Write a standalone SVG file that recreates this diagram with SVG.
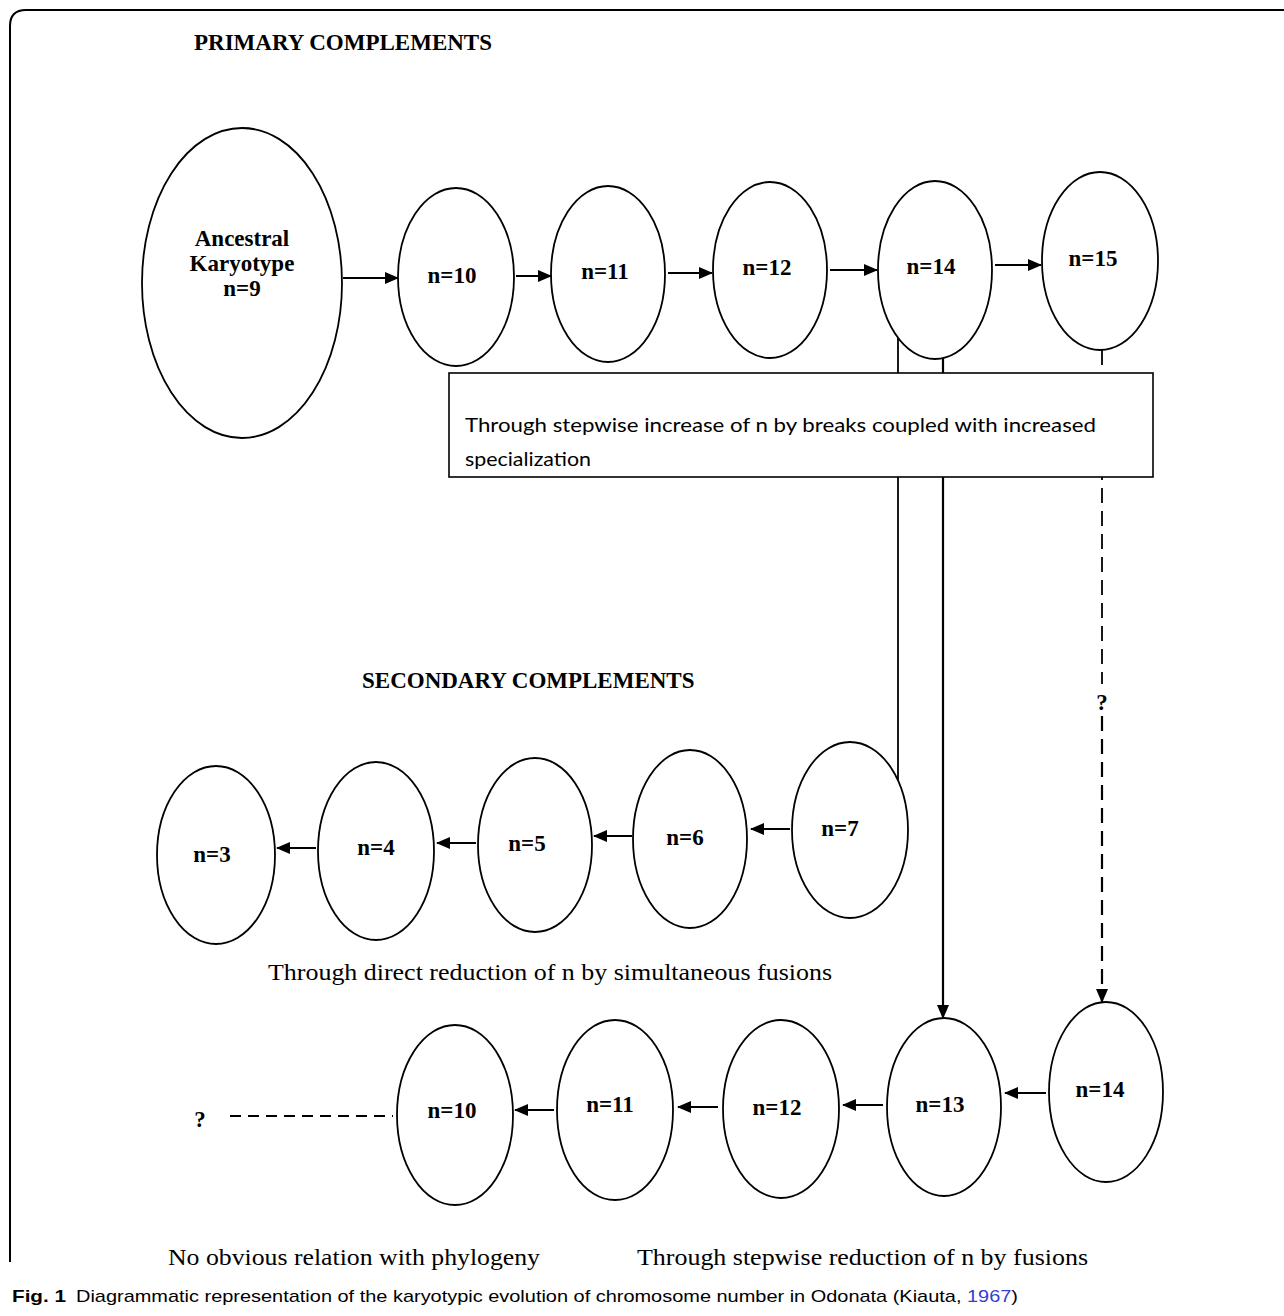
<svg xmlns="http://www.w3.org/2000/svg" width="1284" height="1316" viewBox="0 0 1284 1316">
<style>
.node ellipse{fill:#fff;stroke:#000;stroke-width:1.8}
.lbl{font-family:"Liberation Serif","Times New Roman",serif;font-weight:bold;font-size:23px;text-anchor:middle;fill:#000}
.head{font-family:"Liberation Serif","Times New Roman",serif;font-weight:bold;font-size:23px;fill:#000}
.note{font-family:"Liberation Serif","Times New Roman",serif;font-size:24px;fill:#000}
.box{font-family:Lato,"Liberation Sans",Arial,sans-serif;font-size:20px;fill:#000}
.arr{stroke:#000;stroke-width:2.2;fill:none;marker-end:url(#ah)}
.ln{stroke:#000;stroke-width:1.8;fill:none}
.dash{stroke:#000;stroke-width:1.8;fill:none;stroke-dasharray:15 8}
</style>
<defs>
<marker id="ah" markerUnits="userSpaceOnUse" markerWidth="14" markerHeight="12" refX="13" refY="6" orient="auto">
<path d="M0,0 L14,6 L0,12 Z" fill="#000"/>
</marker>
</defs>
<rect width="1284" height="1316" fill="#fff"/>
<path d="M10,1262 V26 Q10,10 26,10 H1284" fill="none" stroke="#000" stroke-width="2"/>
<text class="head" x="194" y="50">PRIMARY COMPLEMENTS</text>
<text class="head" x="362" y="688">SECONDARY COMPLEMENTS</text>

<g id="connectors">
<line class="arr" x1="343" y1="278" x2="398" y2="278"/>
<line class="arr" x1="516" y1="276" x2="551" y2="276"/>
<line class="arr" x1="668" y1="273" x2="712" y2="273"/>
<line class="arr" x1="830" y1="270" x2="877" y2="270"/>
<line class="arr" x1="995" y1="265" x2="1041" y2="265"/>
<line class="ln" x1="898" y1="337" x2="898" y2="780"/>
<line class="arr" x1="943" y1="358" x2="943" y2="1018"/>
<line class="dash" x1="1102" y1="350" x2="1102" y2="684"/>
<line class="arr" x1="1102" y1="716" x2="1102" y2="1002" stroke-dasharray="15 8"/>
<line class="arr" x1="790" y1="829" x2="751" y2="829"/>
<line class="arr" x1="632" y1="836" x2="594" y2="836"/>
<line class="arr" x1="476" y1="843" x2="437" y2="843"/>
<line class="arr" x1="316" y1="848" x2="277" y2="848"/>
<line class="arr" x1="1046" y1="1093" x2="1005" y2="1093"/>
<line class="arr" x1="883" y1="1105" x2="843" y2="1105"/>
<line class="arr" x1="718" y1="1107" x2="678" y2="1107"/>
<line class="arr" x1="554" y1="1110" x2="515" y2="1110"/>
<line class="ln" x1="230" y1="1116" x2="393" y2="1116" stroke-dasharray="11 7"/>
</g>

<text class="head" x="1102" y="710" text-anchor="middle" font-size="22">?</text>
<text class="head" x="200" y="1127" text-anchor="middle" font-size="22">?</text>

<g id="box">
<rect x="449" y="373" width="704" height="104" fill="#fff" stroke="#000" stroke-width="1.6"/>
<text class="box" x="465" y="432" textLength="631" lengthAdjust="spacingAndGlyphs">Through stepwise increase of n by breaks coupled with increased</text>
<text class="box" x="465" y="466" textLength="126" lengthAdjust="spacingAndGlyphs">specialization</text>
</g>

<g id="n_anc" class="node"><ellipse cx="242" cy="283" rx="100" ry="155"/>
<text class="lbl" font-size="21" x="242" y="246">Ancestral</text>
<text class="lbl" font-size="21" x="242" y="271">Karyotype</text>
<text class="lbl" font-size="21" x="242" y="296">n=9</text></g>
<g id="p10" class="node"><ellipse cx="456" cy="277" rx="58" ry="89"/><text class="lbl" x="452" y="283">n=10</text></g>
<g id="p11" class="node"><ellipse cx="608" cy="274" rx="57" ry="88"/><text class="lbl" x="605" y="279">n=11</text></g>
<g id="p12" class="node"><ellipse cx="770" cy="270" rx="57" ry="88"/><text class="lbl" x="767" y="275">n=12</text></g>
<g id="p14" class="node"><ellipse cx="935" cy="270" rx="57" ry="89"/><text class="lbl" x="931" y="274">n=14</text></g>
<g id="p15" class="node"><ellipse cx="1100" cy="261" rx="58" ry="89"/><text class="lbl" x="1093" y="266">n=15</text></g>

<g id="s7" class="node"><ellipse cx="850" cy="830" rx="58" ry="88"/><text class="lbl" x="840" y="836">n=7</text></g>
<g id="s6" class="node"><ellipse cx="690" cy="839" rx="57" ry="89"/><text class="lbl" x="685" y="845">n=6</text></g>
<g id="s5" class="node"><ellipse cx="535" cy="845" rx="57" ry="87"/><text class="lbl" x="527" y="851">n=5</text></g>
<g id="s4" class="node"><ellipse cx="376" cy="851" rx="58" ry="89"/><text class="lbl" x="376" y="855">n=4</text></g>
<g id="s3" class="node"><ellipse cx="216" cy="855" rx="59" ry="89"/><text class="lbl" x="212" y="862">n=3</text></g>

<g id="b14" class="node"><ellipse cx="1106" cy="1092" rx="57" ry="90"/><text class="lbl" x="1100" y="1097">n=14</text></g>
<g id="b13" class="node"><ellipse cx="944" cy="1107" rx="57" ry="89"/><text class="lbl" x="940" y="1112">n=13</text></g>
<g id="b12" class="node"><ellipse cx="781" cy="1109" rx="58" ry="89"/><text class="lbl" x="777" y="1115">n=12</text></g>
<g id="b11" class="node"><ellipse cx="615" cy="1110" rx="58" ry="90"/><text class="lbl" x="610" y="1112">n=11</text></g>
<g id="b10" class="node"><ellipse cx="455" cy="1115" rx="58" ry="90"/><text class="lbl" x="452" y="1118">n=10</text></g>

<text class="note" x="268" y="980" textLength="564" lengthAdjust="spacingAndGlyphs">Through direct reduction of n by simultaneous fusions</text>
<text class="note" x="168" y="1265" textLength="372" lengthAdjust="spacingAndGlyphs">No obvious relation with phylogeny</text>
<text class="note" x="637" y="1265" textLength="451" lengthAdjust="spacingAndGlyphs">Through stepwise reduction of n by fusions</text>

<text x="12" y="1302" font-family="'Liberation Sans',Arial,sans-serif" font-weight="bold" font-size="17" textLength="54" lengthAdjust="spacingAndGlyphs">Fig. 1</text>
<text x="76" y="1302" font-family="'Liberation Sans',Arial,sans-serif" font-size="17" textLength="942" lengthAdjust="spacingAndGlyphs">Diagrammatic representation of the karyotypic evolution of chromosome number in Odonata (Kiauta, <tspan fill="#3b3bd6">1967</tspan>)</text>
</svg>
